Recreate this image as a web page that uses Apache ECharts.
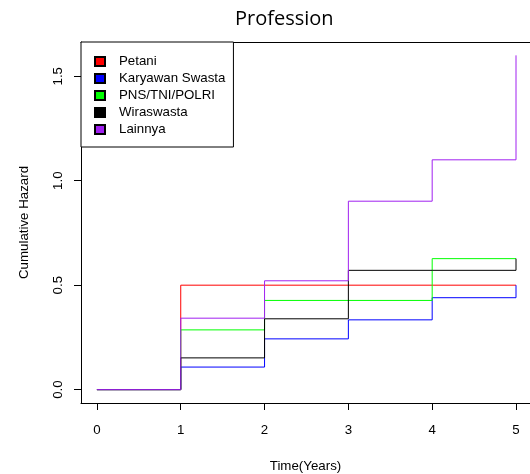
<!DOCTYPE html>
<html><head><meta charset="utf-8">
<script src="https://cdn.jsdelivr.net/npm/echarts@6/dist/echarts.min.js"></script>
<style>html,body{margin:0;padding:0;background:#fff}#c{width:530px;height:474px}</style>
</head><body><div id="c"></div>
<script>
var times = [0, 1, 2, 3, 4, 5];
var groups = ['Petani', 'Karyawan Swasta', 'PNS/TNI/POLRI', 'Wiraswasta', 'Lainnya'];
var petani = [0, 0.5, 0.5, 0.5, 0.5, 0.5];
var karyawan = [0, 0.108, 0.243, 0.334, 0.44, 0.5];
var pns = [0, 0.286, 0.427, 0.427, 0.627, 0.627];
var wiraswasta = [0, 0.152, 0.339, 0.571, 0.571, 0.627];
var lainnya = [0, 0.342, 0.521, 0.902, 1.10, 1.60];
var xTicks = [0, 1, 2, 3, 4, 5];
var yTicks = [0, 0.5, 1.0, 1.5];
var colors = ['#FF0000', '#0000FF', '#00FF00', '#000000', '#A020F0'];
var values = [petani, karyawan, pns, wiraswasta, lainnya];

var chart = echarts.init(document.getElementById('c'));
var font = 'Liberation Sans, Arial, sans-serif';
var fs = 13.3;
var series = groups.map(function (g, i) {
  return {
    name: g, type: 'line', step: 'end', symbol: 'none',
    data: times.map(function (t, j) { return [t, values[i][j]]; }),
    lineStyle: { color: colors[i], width: 1 },
    itemStyle: { color: colors[i], borderColor: '#000', borderWidth: 1 },
    animation: false, z: 2 + i
  };
});
chart.setOption({
  animation: false,
  title: { text: 'Profession', left: 230, top: 4,
    textStyle: { fontFamily: 'Open Sans', fontSize: 20, fontWeight: 'normal', color: '#000' } },
  grid: { left: 81, top: 42, right: 0, bottom: 71, show: false, containLabel: false, outerBoundsMode: 'none' },
  legend: {
    left: 81, top: 42, orient: 'vertical', icon: 'rect',
    itemWidth: 10, itemHeight: 9, itemGap: 2,
    padding: [12, 8, 10, 13],
    backgroundColor: '#fff', borderColor: '#000', borderWidth: 1,
    textStyle: { fontFamily: font, fontSize: fs, color: '#000', lineHeight: 15, padding: [0, 0, 0, 9] },
    data: groups
  },
  xAxis: [{
    type: 'value', min: -0.19, max: 5.167, position: 'bottom',
    name: 'Time(Years)', nameLocation: 'middle', nameGap: 57,
    nameTextStyle: { fontFamily: font, fontSize: fs, color: '#000' },
    axisLine: { show: true, onZero: false, lineStyle: { color: '#000' } },
    axisTick: { show: true, length: 7, customValues: xTicks, lineStyle: { color: '#000' } },
    axisLabel: { customValues: xTicks, margin: 21, fontFamily: font, fontSize: fs, color: '#000' },
    splitLine: { show: false }
  }, {
    type: 'value', min: -0.19, max: 5.167, position: 'top',
    axisLine: { show: true, onZero: false, lineStyle: { color: '#000' } },
    axisTick: { show: false }, axisLabel: { show: false }, splitLine: { show: false }
  }],
  yAxis: {
    type: 'value', min: -0.064, max: 1.664,
    name: 'Cumulative Hazard', nameLocation: 'middle', nameGap: 50,
    nameTextStyle: { fontFamily: font, fontSize: fs, color: '#000' },
    axisLine: { show: true, onZero: false, lineStyle: { color: '#000' } },
    axisTick: { show: true, length: 7, customValues: yTicks, lineStyle: { color: '#000' } },
    axisLabel: { customValues: yTicks, rotate: 90, margin: 16, fontFamily: font, fontSize: fs, color: '#000',
      formatter: function (v) { return v.toFixed(1); } },
    splitLine: { show: false }
  },
  series: series
});
</script></body></html>
